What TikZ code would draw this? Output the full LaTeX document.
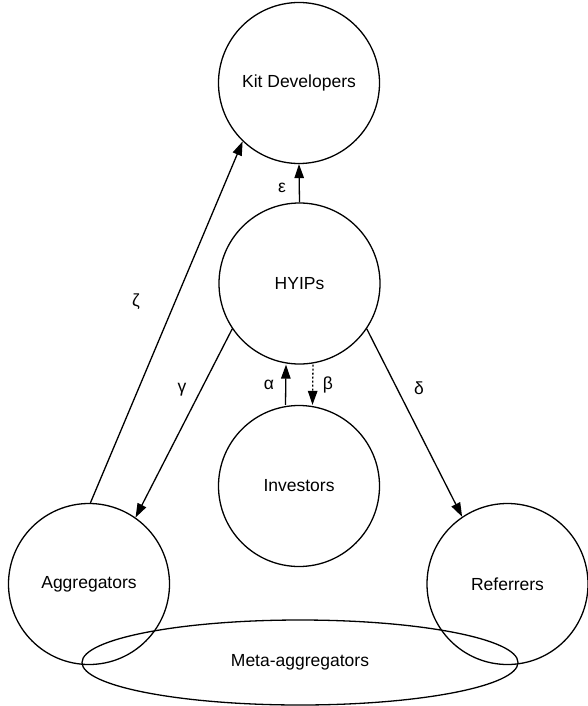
\documentclass[tikz,border=0pt]{standalone}
\usepackage{fontspec}
\setmainfont{Liberation Sans}
\usetikzlibrary{arrows.meta,calc,shapes.geometric}
\begin{document}
\begin{tikzpicture}[x=1pt,y=-1pt,
  every node/.style={font=\fontsize{17.5}{20}\selectfont},
  ent/.style={draw,circle,line width=1.3pt,minimum size=161pt,inner sep=0pt},
  meta/.style={draw,ellipse,line width=1.3pt,minimum width=436pt,minimum height=85pt,inner sep=0pt},
  arr/.style={line width=1.3pt,-{Triangle[length=14pt,width=9.5pt]}},
  lbl/.style={inner sep=0pt}]
\useasboundingbox (0,0) rectangle (587,706);
\node[ent] (kit) at (299,83) {Kit Developers};
\node[ent] (hyip) at (299.5,283.5) {HYIPs};
\node[ent] (inv) at (299,486) {Investors};
\node[ent] (agg) at (89,584) {Aggregators};
\node[ent] (ref) at (507.5,584) {Referrers};
\node[meta] (meta) at (300,662.5) {Meta-aggregators};
% arrows
\draw[arr] (hyip.north) -- (kit.south);
\draw[arr] (agg.89) -- (kit.226);
\draw[arr] (hyip.214) -- (agg.55);
\draw[arr] (hyip.326) -- (ref.124);
\draw[arr] ([xshift=-13.5pt]inv.north) -- ([xshift=-13.5pt]hyip.south);
\draw[arr,dash pattern=on 2pt off 2pt] ([xshift=13.5pt]hyip.south) -- ([xshift=13.5pt]inv.north);
% labels
\node[lbl] (le) at (282,188) {ε};
\node[lbl] (lz) at (136,302) {ζ};
\node[lbl] (lg) at (182,390) {γ};
\node[lbl] (ld) at (419,388) {δ};
\node[lbl] (la) at (269,385) {α};
\node[lbl] (lb) at (328,385) {β};
\end{tikzpicture}
\end{document}
